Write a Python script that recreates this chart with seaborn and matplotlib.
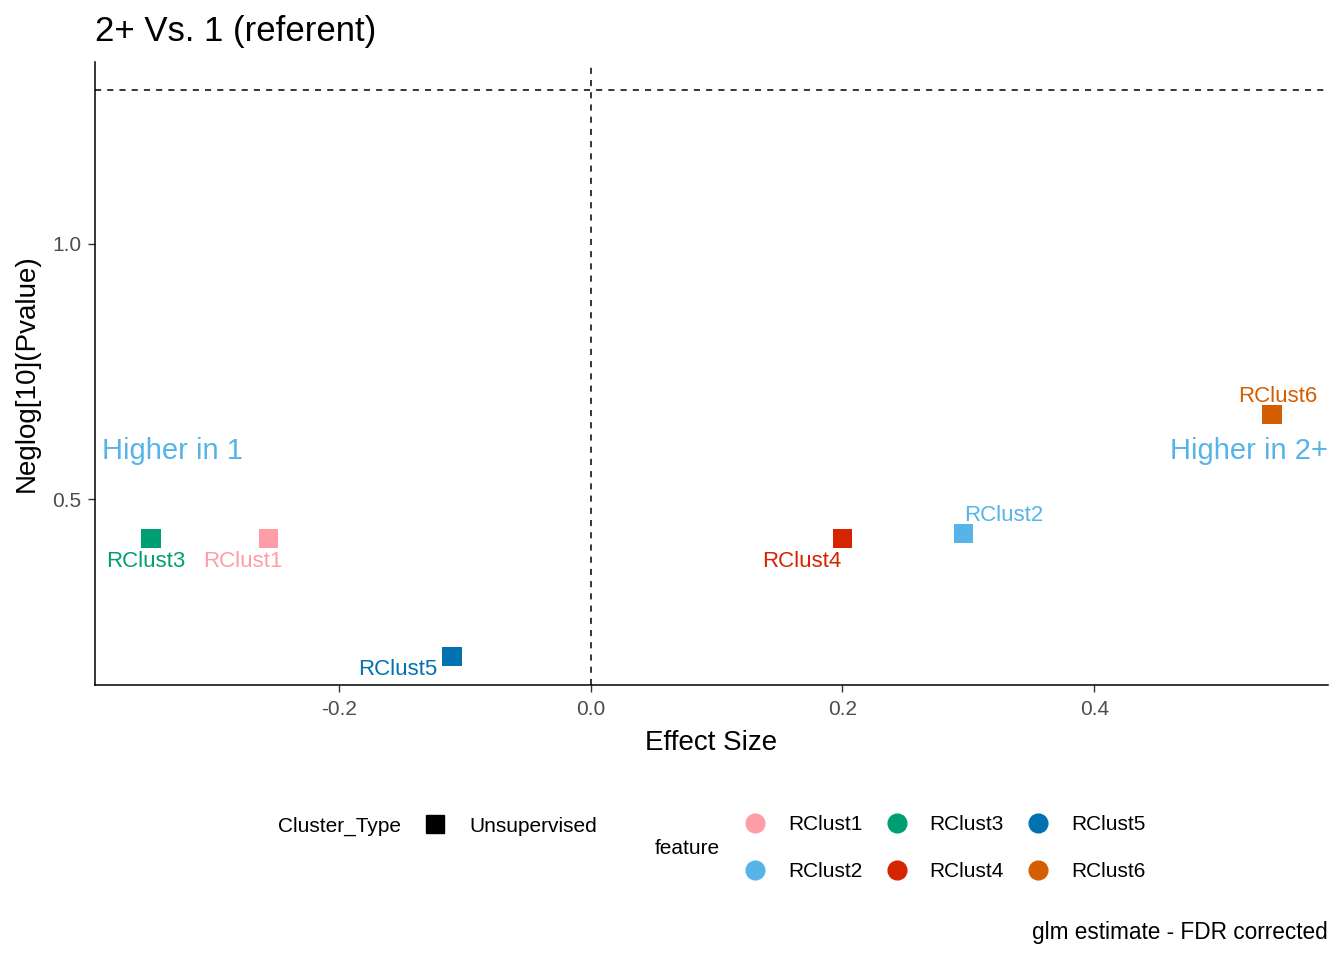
import numpy as np
import pandas as pd
import matplotlib
matplotlib.use("Agg")
import matplotlib.pyplot as plt
import matplotlib.transforms as mtransforms
from matplotlib.lines import Line2D
import seaborn as sns

# data
features = ["RClust1", "RClust2", "RClust3", "RClust4", "RClust5", "RClust6"]
effect_size = [-0.256, 0.296, -0.349, 0.200, -0.110, 0.541]
neglog_p = [0.423, 0.433, 0.423, 0.423, 0.191, 0.665]
cluster_type = ["Unsupervised"] * 6
palette = {"RClust1": "#FF9DA7", "RClust2": "#56B4E9", "RClust3": "#009E73",
           "RClust4": "#D62300", "RClust5": "#0072B2", "RClust6": "#D55E00"}
# label offsets in pixels (ggrepel-like placement)
label_offsets = {"RClust1": (-25, -23), "RClust2": (40, 18), "RClust3": (-5, -23),
                 "RClust4": (-41, -23), "RClust5": (-54, -13), "RClust6": (6, 18)}

df = pd.DataFrame({"feature": features, "effect": effect_size,
                   "neglogp": neglog_p, "Cluster_Type": cluster_type})

sns.set_theme(style="white")
plt.rcParams["font.family"] = ["Liberation Sans", "DejaVu Sans"]
plt.rcParams["axes.unicode_minus"] = False
plt.rcParams["text.color"] = "black"

fig = plt.figure(figsize=(13.44, 9.6), dpi=100)
ax = fig.add_axes([95 / 1344, 1 - 685 / 960, (1328 - 95) / 1344, (685 - 62) / 960])

sns.scatterplot(data=df, x="effect", y="neglogp", hue="feature", palette=palette,
                marker="s", s=190, linewidth=0, legend=False, ax=ax)

for _, r in df.iterrows():
    dx, dy = label_offsets[r["feature"]]
    ax.annotate(r["feature"], (r["effect"], r["neglogp"]), xytext=(dx, dy),
                textcoords="offset pixels", ha="center", va="center",
                fontsize=16, color=palette[r["feature"]])

ax.axhline(-np.log10(0.05), color="black", linestyle=(0, (4, 4)), linewidth=1.1)
ax.axvline(0, color="black", linestyle=(0, (4, 4)), linewidth=1.1)

xmin, xmax = min(effect_size), max(effect_size)
ymin, ymax = min(neglog_p), -np.log10(0.05)
xpad, ypad = (xmax - xmin) * 0.05, (ymax - ymin) * 0.05
ax.set_xlim(xmin - xpad, xmax + xpad)
ax.set_ylim(ymin - ypad, ymax + ypad)

blend = mtransforms.blended_transform_factory(ax.transAxes, ax.transData)
ax.text(0.006, 0.594, "Higher in 1", transform=blend,
        ha="left", va="center", fontsize=21, color="#56B4E9")
ax.text(1.0, 0.594, "Higher in 2+", transform=blend,
        ha="right", va="center", fontsize=21, color="#56B4E9")

ax.set_xticks([-0.2, 0.0, 0.2, 0.4])
ax.set_yticks([0.5, 1.0])
ax.tick_params(axis="both", length=5, width=1, color="#333333", labelcolor="#4D4D4D",
               labelsize=15, bottom=True, left=True, pad=5)
ax.tick_params(axis="x", pad=6)
for side in ["top", "right"]:
    ax.spines[side].set_visible(False)
for side in ["left", "bottom"]:
    ax.spines[side].set_color("black")
    ax.spines[side].set_linewidth(1.1)

ax.set_xlabel("Effect Size", fontsize=20, color="black", labelpad=8)
ax.set_ylabel("Neglog[10](Pvalue)", fontsize=20, color="black", labelpad=9)
ax.set_title("2+ Vs. 1 (referent)", loc="left", fontsize=25, pad=15, color="black")

# legends
fs = 15
fig.text(278 / 1344, 1 - 826 / 960, "Cluster_Type", fontsize=fs, va="center")
h1 = [Line2D([], [], marker="s", color="black", linestyle="", markersize=12.5)]
fig.legend(h1, ["Unsupervised"], loc="center left", bbox_to_anchor=(409 / 1344, 1 - 826 / 960),
           frameon=False, fontsize=fs, borderpad=0, handletextpad=0.9, handlelength=1.5)

fig.text(655 / 1344, 1 - 849 / 960, "feature", fontsize=fs, va="center")
h2 = [Line2D([], [], marker="o", color=palette[f], linestyle="", markersize=13.5) for f in features]
fig.legend(h2, features, loc="center left", bbox_to_anchor=(729 / 1344, 1 - 848 / 960),
           ncol=3, frameon=False, fontsize=fs, borderpad=0, handletextpad=0.84,
           handlelength=1.5, labelspacing=1.35, columnspacing=0.88)

fig.text(1328 / 1344, 1 - 933 / 960, "glm estimate - FDR corrected", fontsize=16.3,
         ha="right", va="center")

fig.savefig("out.png", dpi=100)
